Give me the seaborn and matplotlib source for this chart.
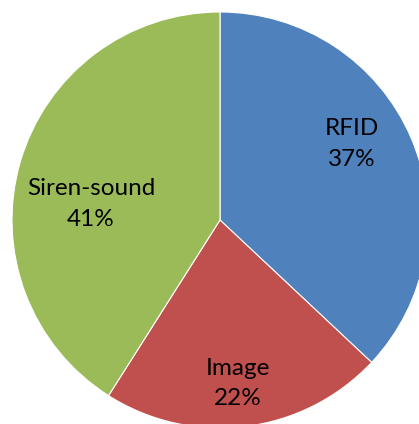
import matplotlib
matplotlib.use("Agg")
import matplotlib.pyplot as plt
import seaborn as sns

categories = ["RFID", "Image", "Siren-sound"]
shares = [37, 22, 41]
colors = ["#4F81BD", "#C0504D", "#9BBB59"]

sns.set_theme(style="white")
plt.rcParams['font.family'] = ['Lato', 'DejaVu Sans']

W, H = 419, 424
fig = plt.figure(figsize=(W / 100, H / 100), dpi=100)
cx, cy, R = 220, 220, 208
ax = fig.add_axes([(cx - R) / W, (H - cy - R) / H, 2 * R / W, 2 * R / H])

wedges, texts = ax.pie(
    shares,
    colors=colors,
    startangle=90,
    counterclock=False,
    radius=1,
    wedgeprops=dict(edgecolor="white", linewidth=0.8),
    labels=[f"{c}\n{v}%" for c, v in zip(categories, shares)],
    labeldistance=0.72,
    textprops=dict(fontsize=17.5, color="black", ha="center", va="center", linespacing=1.55),
)
# label anchors (Excel best-fit placement), in pie-radius units
label_pos = [(0.635, 0.365), (0.087, -0.785), (-0.620, 0.077)]
for t, p in zip(texts, label_pos):
    t.set_position(p)
    t.set_ha("center")
    t.set_va("center")

ax.set_xlim(-1, 1)
ax.set_ylim(-1, 1)
ax.set_aspect("auto")
ax.axis("off")
fig.savefig("out.png", dpi=100)
